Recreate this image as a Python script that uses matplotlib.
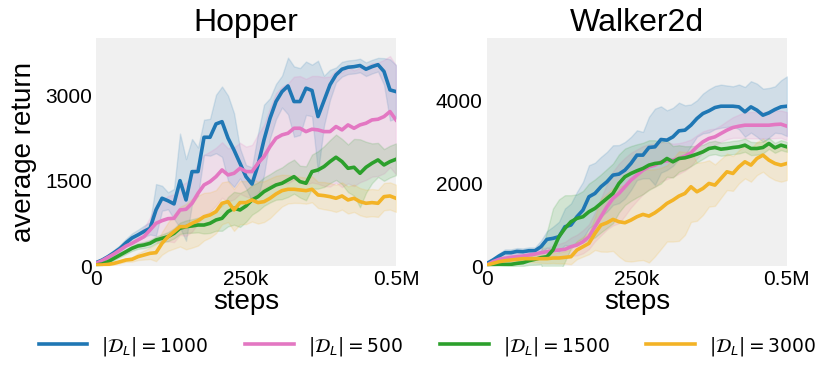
import numpy as np
import matplotlib
matplotlib.use("Agg")
import matplotlib.pyplot as plt

plt.rcParams['font.family'] = ['Liberation Sans', 'DejaVu Sans']
plt.rcParams['mathtext.fontset'] = 'dejavusans'

steps = np.arange(0, 510000, 10000)

labels = [r'$|\mathcal{D}_L| = 1000$', r'$|\mathcal{D}_L| = 500$',
          r'$|\mathcal{D}_L| = 1500$', r'$|\mathcal{D}_L| = 3000$']
colors = ['#1f77b4', '#e377c2', '#2ca02c', '#f3b326']

# ---------------- Hopper ----------------
hop_1000 = [60, 105, 165, 235, 310, 410, 495, 550, 610, 665, 990, 1195, 1150, 1095, 1505, 1165,
            1665, 1665, 2270, 2270, 2505, 2545, 2255, 2045, 1810, 1575, 1445, 1780, 2225, 2605,
            2900, 3075, 3175, 2900, 2900, 3135, 3095, 2635, 2915, 3195, 3370, 3470, 3505, 3515,
            3535, 3470, 3515, 3550, 3430, 3105, 3075]
hop_1000_sd = [20, 30, 40, 50, 60, 70, 80, 90, 100, 110, 455, 220, 150, 265, 830, 720, 575, 425,
               310, 325, 515, 620, 750, 650, 265, 205, 295, 560, 620, 355, 310, 280, 500, 620, 590,
               470, 455, 985, 440, 265, 130, 130, 120, 120, 120, 120, 120, 120, 235, 540, 470]
hop_500 = [47, 94, 153, 212, 282, 353, 400, 459, 518, 635, 753, 800, 835, 841, 988, 1000, 1106,
           1282, 1429, 1488, 1576, 1694, 1606, 1635, 1723, 1665, 1665, 1812, 1929, 2106, 2253,
           2312, 2341, 2429, 2429, 2370, 2412, 2400, 2370, 2370, 2459, 2400, 2488, 2429, 2488,
           2518, 2576, 2588, 2635, 2723, 2576]
hop_500_sd = [15, 20, 30, 40, 50, 70, 90, 120, 160, 220, 325, 360, 400, 420, 440, 470, 500, 530,
              530, 530, 510, 490, 470, 460, 450, 440, 470, 510, 560, 680, 795, 850, 880, 910, 920,
              930, 940, 950, 960, 970, 990, 1010, 1030, 1020, 1010, 1000, 1000, 1000, 1000, 980, 960]
hop_1500 = [18, 35, 76, 135, 194, 253, 312, 353, 371, 400, 459, 488, 518, 576, 665, 694, 706, 723,
            723, 753, 812, 841, 959, 1018, 988, 1059, 1165, 1223, 1312, 1371, 1429, 1459, 1518,
            1576, 1488, 1459, 1665, 1694, 1753, 1841, 1918, 1841, 1723, 1741, 1635, 1741, 1812,
            1871, 1782, 1841, 1882]
hop_1500_sd = [15, 20, 25, 30, 35, 40, 45, 50, 55, 60, 60, 70, 80, 90, 100, 110, 120, 130, 150,
               170, 190, 220, 260, 290, 300, 280, 260, 250, 250, 250, 260, 280, 300, 300, 280, 300,
               300, 330, 360, 380, 400, 400, 420, 500, 600, 450, 350, 300, 280, 280, 280]
hop_3000 = [18, 18, 29, 47, 76, 106, 118, 165, 194, 224, 235, 400, 518, 606, 694, 694, 753, 800,
            870, 900, 959, 1106, 1135, 988, 1118, 1118, 1165, 1118, 1135, 1194, 1270, 1329, 1353,
            1353, 1341, 1329, 1353, 1253, 1241, 1223, 1194, 1235, 1165, 1194, 1135, 1106, 1118,
            1106, 1223, 1235, 1194]
hop_3000_sd = [10, 10, 15, 20, 25, 30, 40, 60, 80, 100, 150, 200, 250, 300, 350, 400, 430, 440,
               420, 400, 380, 370, 360, 370, 380, 380, 380, 370, 360, 350, 320, 280, 250, 240, 230,
               230, 230, 230, 240, 240, 240, 240, 240, 240, 240, 240, 240, 240, 240, 240, 240]

# ---------------- Walker2d ----------------
wal_1000 = [64, 145, 241, 321, 321, 353, 345, 369, 369, 466, 643, 667, 707, 948, 988, 1189, 1349,
            1671, 1751, 1912, 2032, 2193, 2217, 2313, 2474, 2675, 2675, 2859, 2875, 3052, 3036,
            3116, 3261, 3277, 3398, 3558, 3679, 3743, 3823, 3855, 3855, 3855, 3839, 3719, 3839,
            3759, 3639, 3695, 3775, 3839, 3855]
wal_1000_sd = [20, 40, 60, 80, 80, 80, 80, 80, 80, 145, 200, 280, 360, 440, 520, 600, 680, 760,
               740, 720, 720, 720, 700, 680, 640, 600, 560, 740, 920, 800, 720, 700, 680, 600, 500,
               440, 480, 520, 520, 520, 500, 480, 540, 600, 620, 640, 640, 600, 560, 640, 720]
wal_500 = [24, 104, 161, 185, 209, 225, 241, 265, 289, 321, 345, 369, 386, 402, 466, 506, 586, 707,
           948, 1189, 1430, 1630, 1751, 1912, 2072, 2193, 2313, 2394, 2434, 2514, 2538, 2554,
           2594, 2651, 2731, 2875, 2996, 3076, 3116, 3197, 3277, 3341, 3373, 3397, 3397, 3397,
           3397, 3397, 3414, 3422, 3373]
wal_500_sd = [20, 40, 60, 70, 80, 90, 100, 100, 100, 100, 100, 120, 150, 180, 220, 250, 280, 300,
              350, 450, 550, 650, 720, 700, 660, 620, 580, 540, 520, 480, 440, 400, 370, 350, 320,
              280, 250, 220, 200, 200, 220, 250, 280, 310, 320, 320, 320, 320, 330, 330, 340]
wal_1500 = [0, 24, 40, 40, 40, 64, 80, 128, 161, 201, 225, 386, 707, 908, 1068, 1149, 1189, 1309,
            1390, 1510, 1630, 1751, 1992, 2153, 2233, 2297, 2353, 2434, 2474, 2490, 2594, 2514,
            2594, 2610, 2651, 2699, 2755, 2835, 2859, 2819, 2835, 2859, 2875, 2916, 2835, 2835,
            2859, 2956, 2851, 2916, 2875]
wal_1500_sd = [10, 20, 30, 40, 50, 60, 80, 100, 130, 160, 600, 1000, 900, 800, 640, 580, 620, 680,
               700, 700, 710, 720, 700, 680, 660, 640, 620, 600, 560, 500, 440, 380, 320, 280, 240,
               200, 170, 160, 160, 160, 160, 160, 160, 160, 160, 150, 140, 130, 120, 120, 120]
wal_3000 = [24, 64, 104, 128, 145, 161, 177, 177, 177, 177, 177, 193, 193, 209, 225, 386, 466, 546,
            787, 988, 1044, 1124, 1068, 1044, 1108, 1189, 1245, 1205, 1285, 1390, 1510, 1590, 1687,
            1751, 1912, 1791, 1871, 1992, 1952, 2112, 2273, 2233, 2394, 2514, 2434, 2594, 2675,
            2554, 2474, 2434, 2474]
wal_3000_sd = [10, 20, 30, 40, 50, 60, 70, 80, 90, 100, 110, 120, 130, 150, 180, 220, 240, 260,
               400, 640, 700, 760, 840, 920, 1000, 1060, 1100, 1120, 1050, 980, 920, 1000, 1080,
               1000, 850, 700, 640, 560, 500, 470, 440, 420, 400, 400, 400, 400, 400, 400, 400,
               400, 400]

hopper = [(hop_1000, hop_1000_sd), (hop_500, hop_500_sd), (hop_1500, hop_1500_sd), (hop_3000, hop_3000_sd)]
walker = [(wal_1000, wal_1000_sd), (wal_500, wal_500_sd), (wal_1500, wal_1500_sd), (wal_3000, wal_3000_sd)]

fig = plt.figure(figsize=(8.3, 3.72), dpi=100)
ax1 = fig.add_axes([0.1157, 0.2849, 0.3614, 0.6129])
ax2 = fig.add_axes([0.5867, 0.2849, 0.3614, 0.6129])

def draw(ax, series, title, yticks, ylim):
    ax.set_facecolor('#f0f0f0')
    for (m, sd), c, lab in zip(series, colors, labels):
        m = np.array(m, float)
        sd = np.array(sd, float)
        ax.fill_between(steps, m - sd, m + sd, color=c, alpha=0.15, linewidth=1, edgecolor=c)
        ax.plot(steps, m, color=c, lw=2.6, label=lab)
    ax.set_xlim(0, 500000)
    ax.set_ylim(*ylim)
    ax.set_xticks([0, 250000, 500000])
    ax.set_xticklabels(['0', '250k', '0.5M'])
    ax.set_yticks(yticks)
    ax.set_yticklabels([str(v) for v in yticks])
    ax.tick_params(length=0, labelsize=15, pad=3)
    for s in ax.spines.values():
        s.set_visible(False)
    ax.set_title(title, fontsize=23, pad=4)
    ax.set_xlabel('steps', fontsize=20, labelpad=0)

draw(ax1, hopper, 'Hopper', [0, 1500, 3000], (0, 4020))
draw(ax2, walker, 'Walker2d', [0, 2000, 4000], (0, 5500))
ax1.set_ylabel('average return', fontsize=20, labelpad=6)

handles, labs = ax1.get_legend_handles_labels()
fig.legend(handles, labs, loc='center', ncol=4, frameon=False, fontsize=13.5,
           bbox_to_anchor=(0.515, 1 - 346 / 372), handlelength=2.6, columnspacing=1.95,
           handletextpad=0.75)

fig.savefig('out.png', dpi=100)
